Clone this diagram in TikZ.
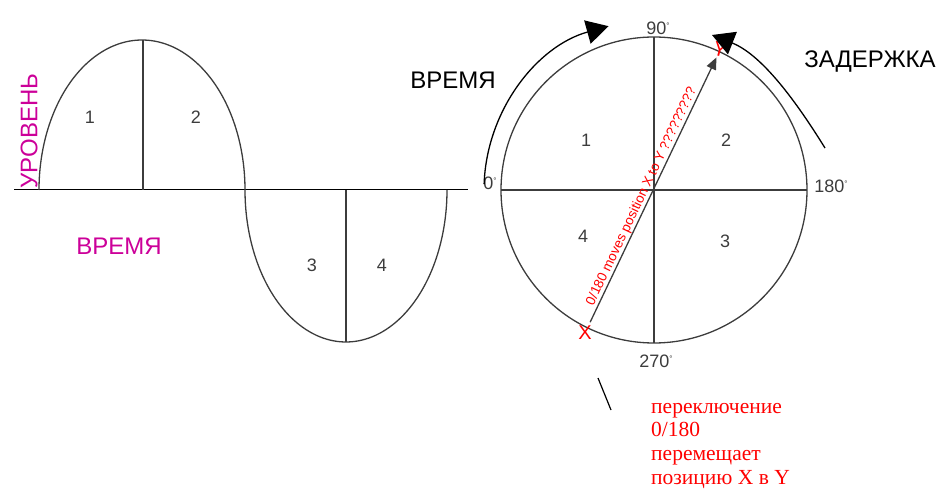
\documentclass[tikz,border=0pt]{standalone}
\usepackage{fontspec}
\setmainfont{Liberation Sans}
\newfontfamily\notefont{Liberation Serif}
\usetikzlibrary{arrows.meta,calc}
\definecolor{magent}{RGB}{204,0,153}
\definecolor{dgray}{RGB}{60,60,60}
\newcommand{\dg}{{\fontsize{8}{8}\selectfont\raisebox{1.4ex}{°}}}
\begin{document}
\begin{tikzpicture}[x=1pt,y=1pt,
  curve/.style={draw=dgray, line width=1.3pt},
  divline/.style={draw=dgray, line width=1.3pt},
  axisline/.style={draw=black, line width=1pt},
  seglabel/.style={text=dgray, font=\fontsize{18}{18}\selectfont, inner sep=0pt},
  biglabel/.style={font=\fontsize{24}{24}\selectfont, inner sep=0pt},
  deglabel/.style={text=dgray, font=\fontsize{18}{18}\selectfont, inner sep=0pt},
  bigarrow/.style={draw=black, line width=1.3pt, -{Triangle[length=22pt,width=24pt]}},
  xylabel/.style={text=red, font=\fontsize{20}{20}\selectfont, inner sep=1pt}
]
\useasboundingbox (0,0) rectangle (940,490);

% sine wave
\draw[axisline] (14,300) -- (468,300);
\draw[curve] plot[domain=180:0, samples=90, smooth] ({142+103*cos(\x)},{300+150*sin(\x)});
\draw[curve] plot[domain=180:360, samples=90, smooth] ({346+101*cos(\x)},{300+152*sin(\x)});
\draw[divline] (143,300) -- (143,450);
\draw[divline] (346,300) -- (346,148);
\node[seglabel] (s1) at (90,373) {1};
\node[seglabel] (s2) at (196,373) {2};
\node[seglabel] (s3) at (312,225) {3};
\node[seglabel] (s4) at (382,225) {4};
\node[biglabel, text=magent] (vremL) at (119,244) {ВРЕМЯ};
\node[biglabel, text=magent, rotate=90] (lvl) at (29,359) {УРОВЕНЬ};

% circle
\coordinate (O) at (654,300);
\draw[curve] (O) circle[radius=153];
\draw[divline] (654,453) -- (654,147);
\draw[divline] (501,300) -- (807,300);
\node[seglabel] (c1) at (586,350) {1};
\node[seglabel] (c2) at (726,350) {2};
\node[seglabel] (c4) at (583,254) {4};
\node[seglabel] (c3) at (725,249) {3};
\node[deglabel] (d90) at (658,462) {90\dg};
\node[deglabel] (d0) at (490,307) {0\dg};
\node[deglabel] (d180) at (831,304) {180\dg};
\node[deglabel] (d270) at (656,129) {270\dg};

% X and Y
\node[xylabel] (X) at (585,157) {X};
\node[xylabel, rotate=-15] (Y) at (720,440) {Y};
\draw[draw=dgray, line width=1.3pt, -{Triangle[length=12pt,width=10pt]}, shorten <=3pt] (X) -- (Y);
\node[text=red, font=\fontsize{13.5}{13.5}\selectfont, rotate=64.5, anchor=south west, inner sep=1pt] (mv) at ($(X)!0.085!(Y)$) {0/180 moves position X to Y ?????????};

% arc arrows
\draw[bigarrow] ([shift={(178:170)}]O) arc[start angle=178, end angle=105.5, radius=170];
\draw[bigarrow] (825,342) .. controls (802,379) and (765,434) .. (712,455);
\node[biglabel] (vremR) at (453,410) {ВРЕМЯ};
\node[biglabel] (zad) at (870,428) {ЗАДЕРЖКА};

% note
\coordinate (L1) at (598,112);
\coordinate (L2) at (611,80);
\draw[black, line width=1.2pt] (L1) -- (L2);
\node[text=red, font=\notefont\fontsize{21.5}{23.6}\selectfont, align=left, anchor=north west, inner sep=0pt] (note) at (651,87) {переключение\\0/180\\перемещает\\позицию X в Y};
\end{tikzpicture}
\end{document}
